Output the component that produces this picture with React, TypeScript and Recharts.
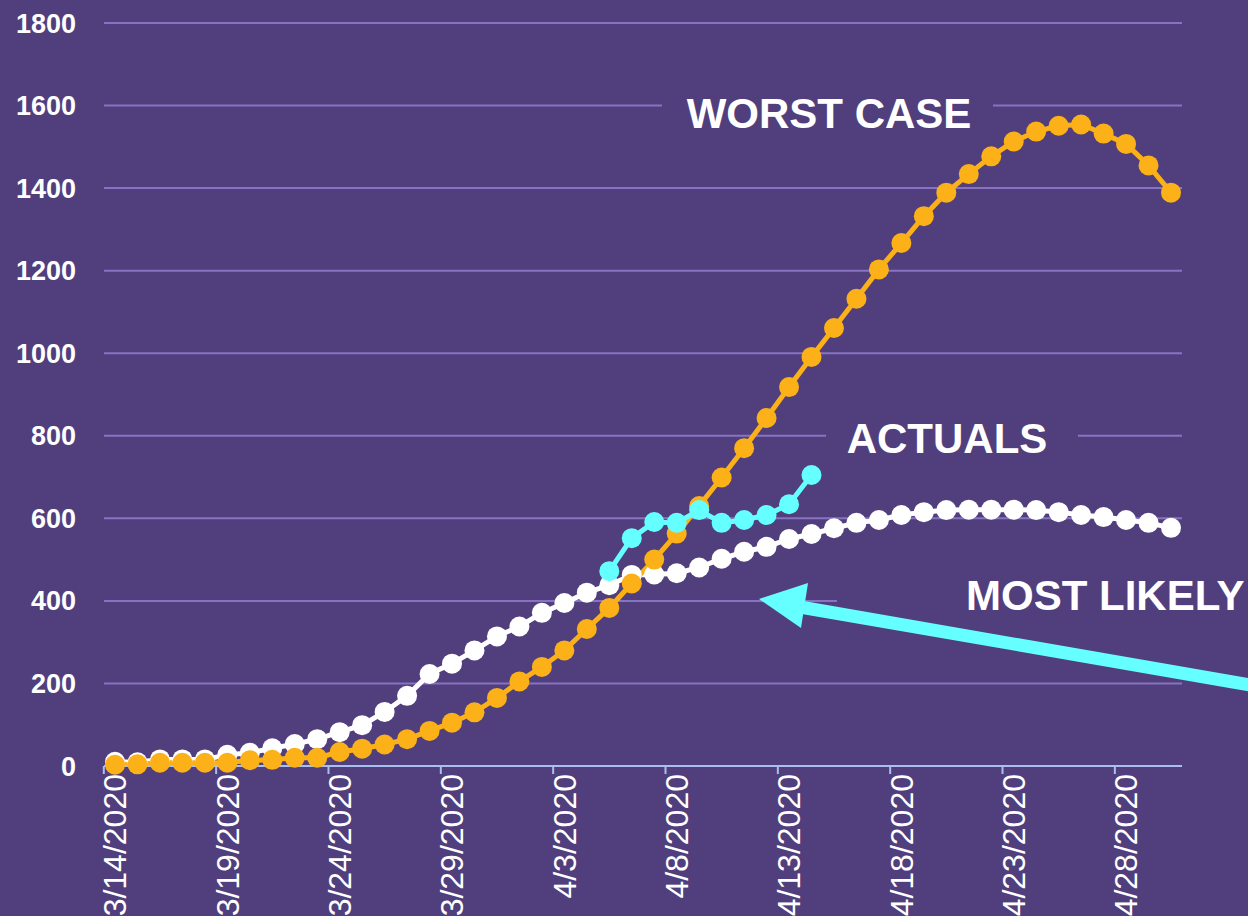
import React from "react";
import { LineChart, Line, XAxis, YAxis, CartesianGrid, Customized } from "recharts";

const dates = [
  "3/14/2020", "3/15/2020", "3/16/2020", "3/17/2020", "3/18/2020", "3/19/2020",
  "3/20/2020", "3/21/2020", "3/22/2020", "3/23/2020", "3/24/2020", "3/25/2020",
  "3/26/2020", "3/27/2020", "3/28/2020", "3/29/2020", "3/30/2020", "3/31/2020",
  "4/1/2020", "4/2/2020", "4/3/2020", "4/4/2020", "4/5/2020", "4/6/2020",
  "4/7/2020", "4/8/2020", "4/9/2020", "4/10/2020", "4/11/2020", "4/12/2020",
  "4/13/2020", "4/14/2020", "4/15/2020", "4/16/2020", "4/17/2020", "4/18/2020",
  "4/19/2020", "4/20/2020", "4/21/2020", "4/22/2020", "4/23/2020", "4/24/2020",
  "4/25/2020", "4/26/2020", "4/27/2020", "4/28/2020", "4/29/2020", "4/30/2020",
];

const mostLikely = [
  10, 9, 16, 16, 16, 27, 32, 43, 53, 65, 82, 99,
  131, 170, 223, 248, 280, 314, 338, 371, 395, 420, 438, 463,
  464, 467, 481, 502, 519, 531, 550, 562, 576, 589, 596, 608,
  615, 620, 621, 621, 621, 620, 615, 608, 603, 596, 589, 577,
];

const worstCase = [
  3, 4, 8, 8, 8, 8, 14, 15, 20, 20, 34, 42,
  52, 65, 85, 105, 130, 165, 205, 240, 280, 332, 383, 442,
  500, 563, 630, 699, 770, 843, 918, 991, 1061, 1132, 1203, 1267,
  1332, 1389, 1434, 1477, 1513, 1537, 1551, 1554, 1532, 1507, 1455, 1389,
];

// actuals start on 4/5
const actualsStart = 22;
const actuals = [472, 552, 591, 589, 620, 589, 596, 608, 634, 705];

const yTicks = [0, 200, 400, 600, 800, 1000, 1200, 1400, 1600, 1800];

const data = dates.map((date, i) => ({
  date,
  mostLikely: mostLikely[i],
  worstCase: worstCase[i],
  actuals: i >= actualsStart && i < actualsStart + actuals.length ? actuals[i - actualsStart] : null,
}));

const BG = "#513F7D";
const GRID = "#8873C2";
const AXIS = "#A9BFEF";
const ORANGE = "#FBB117";
const CYAN = "#66FFFF";
const FONT = "'Liberation Sans', Arial, sans-serif";
const HALF_STEP = 11.2; // tick marks sit between categories

function DateTick({ x, y, payload }: any) {
  return (
    <g>
      <line x1={x - HALF_STEP} y1={y - 8} x2={x - HALF_STEP} y2={y} stroke={AXIS} strokeWidth={2} />
      <text
        transform={`translate(${x},${y}) rotate(-90)`}
        textAnchor="end"
        dy="0.35em"
        fill="#fff"
        fontSize={32}
        fontFamily={FONT}
      >
        {payload.value}
      </text>
    </g>
  );
}

function Annotations() {
  const label = { fill: "#fff", fontSize: 42, fontWeight: 700, fontFamily: FONT };
  return (
    <g>
      <rect x={662} y={95} width={331} height={40} fill={BG} />
      <text x={829} y={128} textAnchor="middle" {...label}>WORST CASE</text>
      <rect x={826} y={420} width={252} height={40} fill={BG} />
      <text x={947} y={453} textAnchor="middle" {...label}>ACTUALS</text>
      <rect x={837} y={578} width={420} height={34} fill={BG} />
      <text x={966} y={610} {...label}>MOST LIKELY</text>
      <line x1={800} y1={607} x2={1262} y2={687} stroke={CYAN} strokeWidth={13} />
      <polygon points="759,599 808,583 801,628" fill={CYAN} />
    </g>
  );
}

export default function App() {
  return (
    <div style={{ position: "absolute", left: 0, top: 0, width: 1248, height: 916, background: BG, overflow: "hidden" }}>
      <LineChart width={1248} height={916} data={data} margin={{ top: 23, right: 66, bottom: 0, left: 0 }}>
        <CartesianGrid horizontal vertical={false} stroke={GRID} strokeWidth={2} />
        <XAxis
          dataKey="date"
          interval={4}
          height={150}
          padding={{ left: 11, right: 11 }}
          axisLine={{ stroke: AXIS, strokeWidth: 2 }}
          tickLine={false}
          tick={<DateTick />}
        />
        <YAxis
          domain={[0, 1800]}
          ticks={yTicks}
          width={104}
          axisLine={false}
          tickLine={false}
          tickSize={0}
          tickMargin={28}
          tick={{ fill: "#fff", fontSize: 27, fontWeight: 700, fontFamily: FONT }}
        />
        <Line
          dataKey="mostLikely"
          type="linear"
          stroke="#fff"
          strokeWidth={5}
          dot={{ r: 10, fill: "#fff", stroke: "none" }}
          isAnimationActive={false}
        />
        <Line
          dataKey="worstCase"
          type="linear"
          stroke={ORANGE}
          strokeWidth={5}
          dot={{ r: 10, fill: ORANGE, stroke: "none" }}
          isAnimationActive={false}
        />
        <Line
          dataKey="actuals"
          type="linear"
          stroke={CYAN}
          strokeWidth={5}
          dot={{ r: 10, fill: CYAN, stroke: "none" }}
          isAnimationActive={false}
        />
        <Customized component={Annotations} />
      </LineChart>
    </div>
  );
}
